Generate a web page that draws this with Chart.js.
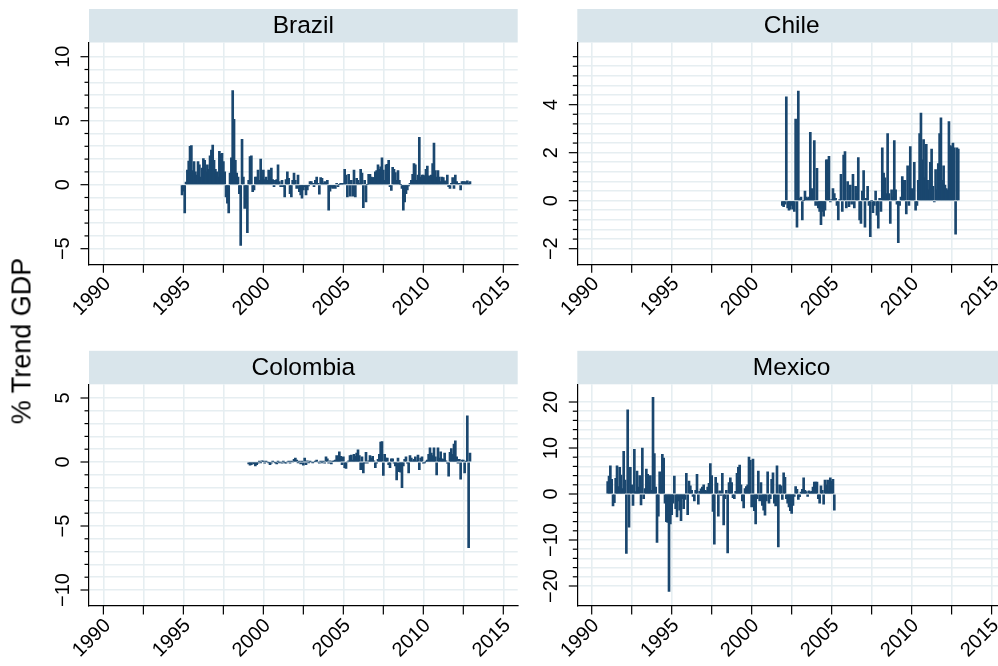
<!DOCTYPE html>
<html>
<head>
<meta charset="utf-8">
<script src="https://cdn.jsdelivr.net/npm/chart.js@4.4.1/dist/chart.umd.min.js"></script>
<style>
  html, body { margin: 0; padding: 0; background: #fff; overflow: hidden; width: 998px; height: 666px; }
  #wrap { position: relative; width: 998px; height: 666px; overflow: hidden; }
  #wrap canvas { position: absolute; left: 0; top: 0; }
  #ytitle {
    position: absolute; left: 22px; top: 341px;
    transform: translate(-50%, -50%) rotate(-90deg);
    font: 27px "Liberation Sans", Arial, sans-serif; color: #000; white-space: nowrap;
  }
</style>
</head>
<body>
<div id="wrap">
  <canvas id="c0" width="1010" height="666"></canvas>
  <canvas id="c1" width="1010" height="666"></canvas>
  <canvas id="c2" width="1010" height="666"></canvas>
  <canvas id="c3" width="1010" height="666"></canvas>
  <div id="ytitle">% Trend GDP</div>
</div>
<script>
// Monthly deviation from trend GDP (%), one array per country
const brazilStart = [1994, 12];
const brazilValues = [
  -0.8, -0.5, -2.2, 0.2, 1.15, 1.85, 3.0, 3.05, 1.1, 1.8, 1.0, 0.75,
  1.8, 1.55, 0.6, 1.3, 2.05, 1.9, 1.0, 1.55, 1.2, 2.25, 2.7, 3.1,
  1.9, 1.2, 1.0, 0.6, 2.6, 2.4, 2.45, 1.8, 1.0, -0.95, -1.45, -2.2,
  0.9, 2.1, 7.35, 5.1, 1.9, 0.9, 0.6, -0.7, -4.75, 3.55, 0.6, -1.85,
  -1.45, -3.75, 0.35, 2.2, 2.25, -0.55, -0.4, 0.6, 0.6, 1.15, 0.35, 2.0,
  0.6, 1.15, 0.4, 0.6, 0.35, 1.15, 0.6, 1.3, 0.4, -0.15, 0.35, 0.4,
  1.55, 0.25, -0.15, 0.35, -0.15, -0.95, 0.4, 1.0, 0.5, -0.7, -0.95, 0.35,
  0.9, 0.35, -0.3, 0.75, -0.55, -0.8, -1.05, -0.4, -0.15, -0.8, -0.4, -0.1,
  0.25, 0.25, 0.1, -0.15, 0.35, 0.6, 0.1, -0.75, 0.55, 0.5, 0.1, 0.25,
  0.1, 0.35, -2.0, -0.5, -0.2, -0.3, -0.15, -0.3, 0.1, -0.15, 0.0, 0.1,
  0.05, 0.1, 1.2, 0.75, -0.95, 0.8, -0.9, 0.35, -0.9, 1.15, -0.95, 0.5,
  0.35, 0.1, 1.2, 0.9, -1.8, 0.35, -1.35, 0.0, 0.8, 0.8, 0.6, 0.55,
  0.55, 1.0, 1.1, 1.55, 1.2, 1.4, 2.1, 1.15, 0.35, 1.55, 1.6, 1.9,
  -0.15, -0.45, 1.35, 1.2, 0.95, 0.35, 1.1, 0.35, 0.0, -0.3, -2.0, -1.35,
  -0.7, -0.4, -0.1, 0.1, 0.35, 0.8, 1.65, 1.55, 0.35, 0.75, 3.7, 0.6,
  0.75, 0.75, 0.7, 1.2, 1.45, 0.7, 0.6, 0.75, 1.65, 3.25, 1.1, 0.6,
  1.1, 0.6, 0.25, 0.6, 0.55, 0.3, 0.1, 0.75, -0.15, -0.3, 0.1, 0.55,
  -0.3, 0.75, 0.25, 0.1, 0.1, -0.4, 0.25, 0.25, 0.25, 0.1, 0.3, 0.1,
  0.25
];

const chileStart = [2001, 12];
const chileValues = [
  -0.2, -0.25, -0.15, 4.33, -0.3, -0.4, -0.35, -0.2, -0.35, -0.45, 3.4, -1.1,
  4.57, 0.1, 0.15, -0.8, 0.0, 0.4, 0.15, 0.1, 0.15, 2.85, 0.5, 0.45,
  2.5, -0.2, 1.35, -0.3, -0.45, -1.0, -0.45, -0.65, -0.4, 1.7, 1.7, 1.85,
  -0.05, 0.05, 0.5, 0.3, 0.1, -0.2, -0.8, 0.05, 1.1, -0.45, 1.9, 2.05,
  -0.3, 0.8, -0.25, 0.65, -0.15, 1.1, -0.3, 0.6, 0.3, 1.8, -0.8, -0.95,
  0.4, 1.25, -1.1, 0.1, 0.6, -0.2, -1.5, 0.0, -0.5, -0.2, 0.4, -0.6,
  -1.15, 0.1, -0.45, 2.2, 1.15, 0.95, 0.3, 2.8, 0.3, -0.95, 0.45, 0.15,
  2.5, 0.45, -0.15, -1.75, -0.2, 0.15, 1.0, 0.85, 0.85, -0.55, 1.45, -0.2,
  2.25, 0.5, 0.45, 1.6, -0.4, -0.2, 0.85, 2.8, 3.65, 1.7, 2.55, 0.95,
  2.35, 0.85, 0.45, 1.6, 2.15, 0.6, -0.05, 1.3, 0.45, 1.55, 2.8, 3.45,
  0.85, 1.45, 0.65, 0.5, 0.45, 3.3, 2.3, 2.25, 2.4, 2.2, -1.4, 2.2,
  2.15
];

const colombiaStart = [1999, 2];
const colombiaValues = [
  -0.15, -0.25, -0.2, -0.1, -0.15, -0.3, -0.2, -0.1, 0.05, -0.05, 0.1, 0.05,
  -0.1, 0.05, 0.0, -0.05, -0.2, -0.1, 0.05, 0.0, -0.05, -0.15, 0.05, -0.05,
  0.0, -0.1, 0.05, -0.05, -0.1, 0.0, 0.05, -0.1, 0.05, 0.0, 0.2, 0.3,
  0.15, -0.05, 0.05, -0.15, 0.05, -0.25, 0.3, -0.2, 0.1, -0.05, 0.05, 0.0,
  -0.05, 0.0, 0.05, 0.15, 0.0, -0.1, 0.05, -0.05, 0.05, -0.1, 0.4, 0.25,
  -0.1, 0.1, -0.15, 0.05, 0.1, 0.15, 0.5, 0.1, 0.8, 0.45, -0.2, 0.4,
  -0.45, -0.5, 0.0, 0.1, 0.5, 0.55, 0.15, 0.6, 0.45, 0.7, 0.95, 0.5,
  -0.6, 0.4, -0.85, -0.1, 0.75, -0.1, 0.1, 0.5, 0.3, 0.45, 0.1, -0.45,
  -0.1, 0.2, 0.6, 1.55, 1.6, -1.05, 0.6, 0.3, 0.3, -0.2, -0.45, 0.25,
  0.25, -0.1, -0.3, -1.4, 0.3, -0.75, -0.8, -2.0, -0.3, 0.2, 0.4, -0.1,
  -0.85, 0.5, 0.3, 0.1, 0.2, 0.4, 0.1, 0.55, -0.6, 0.3, 0.4, -0.1,
  -0.05, 0.05, 0.15, 0.6, 1.1, 0.7, 0.5, 1.1, 0.4, -1.0, 1.1, 0.3,
  0.8, 0.25, 0.2, 0.7, 0.1, -0.1, -1.1, 0.75, 1.05, 0.6, 1.4, 1.65,
  0.4, -0.1, 0.2, -1.35, 0.15, 0.15, -0.85, 0.05, 3.6, -6.7, 0.7
];

const mexicoStart = [1991, 1];
const mexicoValues = [
  2.7, 3.9, 6.1, 3.2, -2.6, -1.9, 3.4, 6.1, 1.6, 5.8, 4.1, 1.2,
  9.3, 3.0, -12.9, 18.3, -7.2, 5.8, 2.0, -2.5, 9.7, 0.5, 5.0, 1.5,
  4.0, -2.4, 10.0, -1.0, 1.2, 5.4, 4.3, 2.5, 4.0, 0.8, 21.0, 8.8,
  1.5, -10.5, -4.8, 4.8, 2.0, 8.6, 7.8, -2.0, -6.0, -6.2, -21.2, -6.5,
  -4.5, -2.0, 3.9, -3.2, -5.0, -1.5, -3.5, -5.8, -1.0, -3.2, -1.2, 4.5,
  -4.5, 2.8, 1.8, 0.8, -0.5, -1.5, 0.8, 4.3, -2.2, 0.6, 1.1, 1.5,
  2.0, 0.8, 0.7, 1.5, 2.3, 6.6, 4.0, -3.8, -10.9, 3.6, 2.4, -4.8,
  0.7, -0.3, 4.5, -6.7, -1.0, 0.8, -12.8, 2.5, 3.5, 2.5, -0.8, -1.0,
  0.6, 4.5, 5.8, 6.3, 2.0, -1.5, -3.0, 1.2, 1.6, 2.0, 8.0, 7.3,
  -2.8, 7.6, -3.6, -6.5, -1.0, 5.0, -1.5, 2.5, -2.5, -3.5, -4.6, -1.5,
  4.8, -2.0, -1.0, 3.2, 4.6, -2.0, -2.6, 6.1, -11.5, 2.0, 1.8, -1.2,
  4.6, 3.6, -1.0, -2.0, -2.8, -3.6, -4.2, -2.5, -0.5, 1.6, 1.0, -1.2,
  -0.6, 0.4, 1.0, 3.5, 0.8, 0.5, -0.5, 0.7, 0.4, 0.6, 1.5, 2.6,
  2.6, 2.6, -1.0, -2.0, 1.8, 0.8, -2.2, 3.0, 2.0, 3.0, 0.6, 3.5,
  2.8, 3.2, -3.5
];

// Axis ticks
const xTicks = [1990, 1992.5, 1995, 1997.5, 2000, 2002.5, 2005, 2007.5, 2010, 2012.5, 2015];
const xLabels = [1990, 1995, 2000, 2005, 2010, 2015];
const brazilYLabels = [-5, 0, 5, 10];
const chileYLabels = [-2, 0, 2, 4];
const colombiaYLabels = [-10, -5, 0, 5];
const mexicoYLabels = [-20, -10, 0, 10, 20];

function minorTicks(lo, hi, step) {
  const out = [];
  const n = Math.round((hi - lo) / step);
  for (let k = 0; k <= n; k++) out.push(Math.round((lo + k * step) * 1000) / 1000);
  return out;
}

const FONT = '"Liberation Sans", Arial, Helvetica, sans-serif';
const BAR = '#1a476f';
const GRID = '#e6eef1';
const BAND = '#d9e5eb';
const CW = 1010, CH = 666;

const panels = [
  { id: 'c0', title: 'Brazil', start: brazilStart, values: brazilValues,
    yMin: -6.22, yMax: 11.11, yTicks: minorTicks(-5, 10, 1), yLabels: brazilYLabels,
    area: { left: 89, top: 42.5, right: 517.7, bottom: 264.3 } },
  { id: 'c1', title: 'Chile', start: chileStart, values: chileValues,
    yMin: -2.65, yMax: 6.59, yTicks: minorTicks(-2, 6, 0.4), yLabels: chileYLabels,
    area: { left: 577.3, top: 42.5, right: 1006, bottom: 264.3 } },
  { id: 'c2', title: 'Colombia', start: colombiaStart, values: colombiaValues,
    yMin: -11.25, yMax: 6.07, yTicks: minorTicks(-10, 5, 1), yLabels: colombiaYLabels,
    area: { left: 89, top: 384.3, right: 517.7, bottom: 606 } },
  { id: 'c3', title: 'Mexico', start: mexicoStart, values: mexicoValues,
    yMin: -24.35, yMax: 23.85, yTicks: minorTicks(-20, 20, 2), yLabels: mexicoYLabels,
    area: { left: 577.3, top: 384.3, right: 1006, bottom: 606 } }
];

const isIn = (arr, v) => arr.some(a => Math.abs(a - v) < 1e-6);
const fmt = v => (v < 0 ? '\u2212' + Math.abs(v) : String(v));

// Title band, tick marks, vertical y labels and slanted year labels
const panelDecor = {
  id: 'panelDecor',
  beforeDraw(chart, args, opts) {
    const { ctx, chartArea: a } = chart;
    ctx.save();
    ctx.fillStyle = BAND;
    ctx.fillRect(a.left, a.top - 33.5, a.right - a.left, 33.5);
    ctx.fillStyle = '#000';
    ctx.font = '24.5px ' + FONT;
    ctx.textAlign = 'center';
    ctx.textBaseline = 'middle';
    ctx.fillText(opts.title, (a.left + a.right) / 2, a.top - 16);
    ctx.restore();
  },
  afterDraw(chart, args, opts) {
    const { ctx, chartArea: a, scales: { x, y } } = chart;
    ctx.save();
    ctx.strokeStyle = '#000';
    ctx.lineWidth = 1.2;
    y.ticks.forEach(t => {
      const py = y.getPixelForValue(t.value);
      const len = isIn(opts.yLabels, t.value) ? 8.5 : 4.5;
      ctx.beginPath(); ctx.moveTo(a.left - len, py); ctx.lineTo(a.left, py); ctx.stroke();
    });
    x.ticks.forEach(t => {
      const px = x.getPixelForValue(t.value);
      ctx.beginPath(); ctx.moveTo(px, a.bottom); ctx.lineTo(px, a.bottom + 8.5); ctx.stroke();
    });
    ctx.fillStyle = '#000';
    ctx.font = '20px ' + FONT;
    ctx.textAlign = 'center';
    ctx.textBaseline = 'alphabetic';
    opts.yLabels.forEach(v => {
      const py = y.getPixelForValue(v);
      ctx.save();
      ctx.translate(a.left - 20, py);
      ctx.rotate(-Math.PI / 2);
      ctx.fillText(fmt(v), 0, 0);
      ctx.restore();
    });
    ctx.textAlign = 'right';
    ctx.textBaseline = 'middle';
    xLabels.forEach(v => {
      const px = x.getPixelForValue(v);
      ctx.save();
      ctx.translate(px + 4.2, a.bottom + 16.5);
      ctx.rotate(-Math.PI / 4);
      ctx.fillText(String(v), 0, 0);
      ctx.restore();
    });
    ctx.restore();
  }
};

panels.forEach(p => {
  const pts = p.values.map((v, i) => ({ x: p.start[0] + (p.start[1] - 1 + i) / 12, y: v }));
  new Chart(document.getElementById(p.id), {
    type: 'bar',
    data: {
      datasets: [{
        data: pts,
        backgroundColor: BAR,
        borderWidth: 0,
        barThickness: 2,
        grouped: false
      }]
    },
    options: {
      responsive: false,
      animation: false,
      events: [],
      layout: {
        autoPadding: false,
        padding: { left: p.area.left - 10, top: p.area.top, right: CW - p.area.right, bottom: CH - p.area.bottom - 10 }
      },
      plugins: {
        legend: { display: false },
        tooltip: { enabled: false },
        title: { display: false },
        panelDecor: { title: p.title, yLabels: p.yLabels }
      },
      scales: {
        x: {
          type: 'linear', min: 1989.1, max: 2015.9, offset: false,
          afterBuildTicks: s => { s.ticks = xTicks.map(v => ({ value: v })); },
          afterFit: s => { s.height = 10; },
          grid: { color: GRID, lineWidth: 1.6, drawTicks: false, offset: false },
          border: { display: true, color: '#000', width: 1.2 },
          ticks: { display: false }
        },
        y: {
          type: 'linear', min: p.yMin, max: p.yMax,
          afterBuildTicks: s => { s.ticks = p.yTicks.map(v => ({ value: v })); },
          afterFit: s => { s.width = 10; },
          grid: { color: GRID, lineWidth: 1.6, drawTicks: false },
          border: { display: true, color: '#000', width: 1.2 },
          ticks: { display: false }
        }
      }
    },
    plugins: [panelDecor]
  });
});
</script>
</body>
</html>
